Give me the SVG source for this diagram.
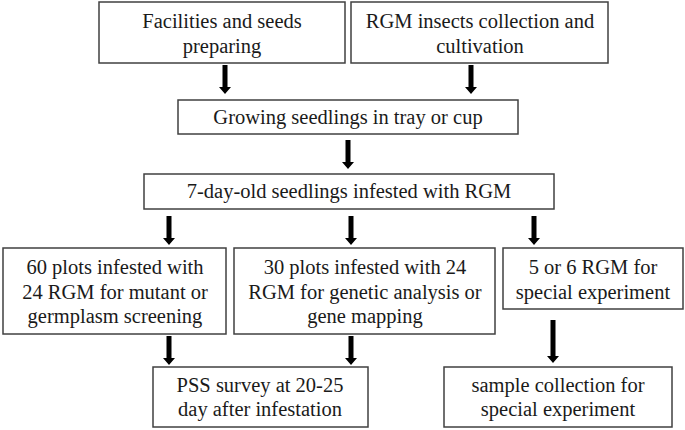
<svg xmlns="http://www.w3.org/2000/svg" width="685" height="430" viewBox="0 0 685 430">
<style>
.box{fill:#fff;stroke:#404040;stroke-width:1.5}
text{font-size:20.5px;fill:#1a1a1a;text-anchor:middle}
.arr{fill:#000}
</style>
<defs>
<path id="a30" d="M-2.5,0 H2.5 V22 H6 L0,29 L-6,22 H-2.5 Z"/>
<path id="a43" d="M-2.5,0 H2.5 V36 H6 L0,43 L-6,36 H-2.5 Z"/>
</defs>
<rect width="685" height="430" fill="#fff"/>
<g id="n1" style="font-family:serif"><rect class="box" x="99" y="2" width="246" height="61"/><text x="222" y="28">Facilities and seeds</text><text x="222" y="53">preparing</text></g>
<g id="n2" style="font-family:serif"><rect class="box" x="351" y="2" width="257" height="61"/><text x="480" y="28">RGM insects collection and</text><text x="480" y="53">cultivation</text></g>
<g id="n3" style="font-family:serif"><rect class="box" x="178" y="100" width="340" height="34"/><text x="348" y="124">Growing seedlings in tray or cup</text></g>
<g id="n4" style="font-family:serif"><rect class="box" x="144" y="174" width="410" height="35"/><text x="349" y="198">7-day-old seedlings infested with RGM</text></g>
<g id="n5" style="font-family:serif"><rect class="box" x="3" y="248" width="223" height="86"/><text x="115" y="274">60 plots infested with</text><text x="115" y="299">24 RGM for mutant or</text><text x="115" y="323">germplasm screening</text></g>
<g id="n6" style="font-family:serif"><rect class="box" x="234" y="248" width="261" height="86"/><text x="365" y="274">30 plots infested with 24</text><text x="365" y="299">RGM for genetic analysis or</text><text x="365" y="323">gene mapping</text></g>
<g id="n7" style="font-family:serif"><rect class="box" x="503" y="248" width="180" height="61"/><text x="593" y="274">5 or 6 RGM for</text><text x="593" y="299">special experiment</text></g>
<g id="n8" style="font-family:serif"><rect class="box" x="153" y="367" width="215" height="60"/><text x="260" y="392">PSS survey at 20-25</text><text x="260" y="416">day after infestation</text></g>
<g id="n9" style="font-family:serif"><rect class="box" x="444" y="367" width="228" height="60"/><text x="558" y="392">sample collection for</text><text x="558" y="416">special experiment</text></g>
<g id="connectors" class="arr">
<use href="#a30" x="225" y="65"/>
<use href="#a30" x="471" y="65"/>
<use href="#a30" x="348" y="140"/>
<use href="#a30" x="169" y="216"/>
<use href="#a30" x="351" y="216"/>
<use href="#a30" x="534" y="216"/>
<use href="#a30" x="169" y="336"/>
<use href="#a30" x="351" y="336"/>
<use href="#a43" x="553" y="320"/>
</g>
</svg>
